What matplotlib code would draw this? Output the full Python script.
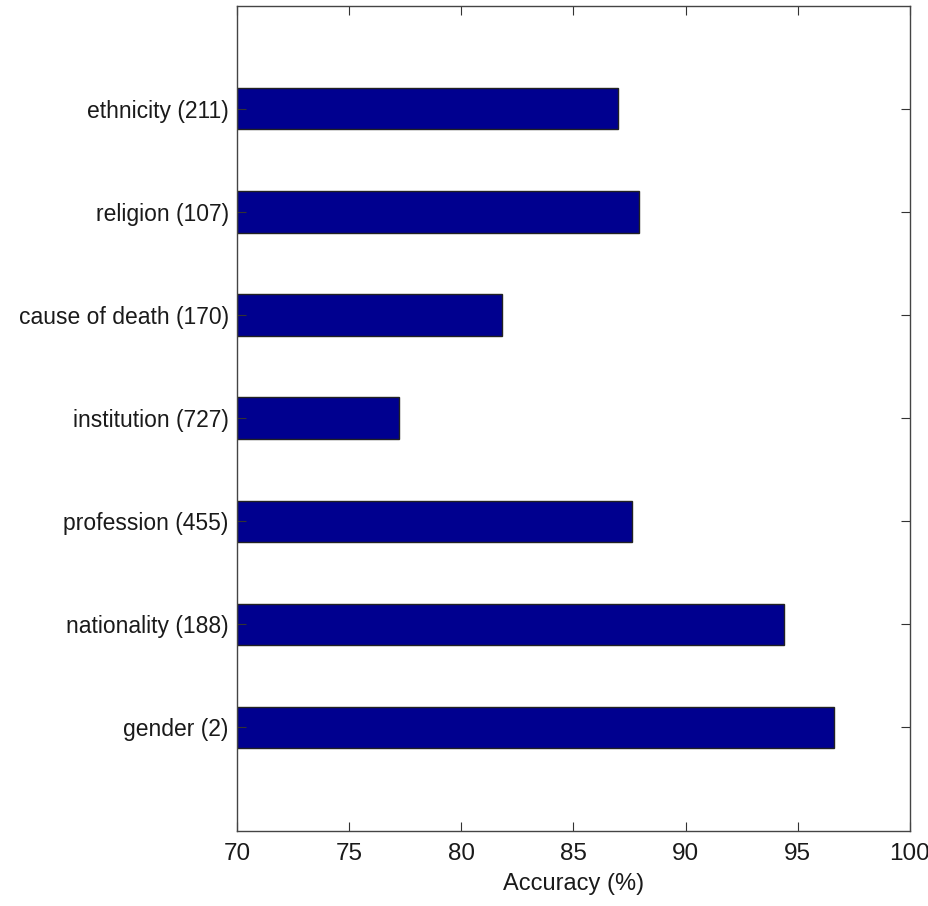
import matplotlib
matplotlib.use('Agg')
import matplotlib.pyplot as plt

plt.rcParams['font.family'] = ['Liberation Sans', 'DejaVu Sans']

labels = ['gender (2)', 'nationality (188)', 'profession (455)', 'institution (727)',
          'cause of death (170)', 'religion (107)', 'ethnicity (211)']
accuracy = [96.6, 94.4, 87.6, 77.2, 81.8, 87.9, 87.0]
xticks = [70, 75, 80, 85, 90, 95, 100]

fig = plt.figure(figsize=(9.29, 9.06), dpi=100)
ax = fig.add_axes([0.2551, 0.0833, 0.7244, 0.9104])

pos = list(range(1, len(labels) + 1))
ax.barh(pos, [a - 70 for a in accuracy], left=70, height=0.4,
        color='#00008F', edgecolor='#222222', linewidth=1.0)

ax.set_xlim(70, 100)
ax.set_ylim(0, 8)
ax.set_xticks(xticks)
ax.set_xticklabels([str(t) for t in xticks], fontsize=17.5)
ax.set_yticks(pos)
ax.set_yticklabels(labels, fontsize=16.5)

ax.tick_params(direction='in', length=6.5, width=0.8,
               top=True, right=True, colors='#333333', labelcolor='#1a1a1a')
ax.tick_params(axis='x', pad=9)
ax.tick_params(axis='y', pad=6)
for s in ax.spines.values():
    s.set_color('#444444')
    s.set_linewidth(1.0)

ax.set_xlabel('Accuracy (%)', fontsize=17, color='#1a1a1a', labelpad=6)

fig.savefig('out.png', dpi=100)
